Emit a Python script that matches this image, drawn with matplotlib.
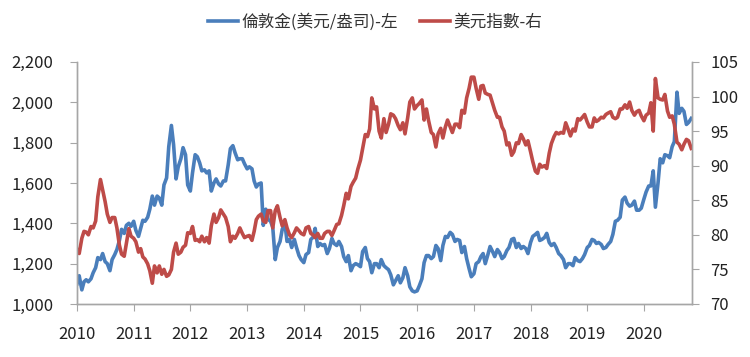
import numpy as np
import pandas as pd
import matplotlib
matplotlib.use("Agg")
import matplotlib.pyplot as plt
from matplotlib.ticker import StrMethodFormatter, MultipleLocator
import matplotlib.dates as mdates

plt.rcParams['font.family'] = ['Noto Sans CJK TC', 'DejaVu Sans']

# semi-monthly readings (1st and 15th of each month), 2010-01 .. 2020-11
dates = pd.date_range('2010-01-01', '2020-11-01', freq='SMS')

# London gold, USD/oz
g2010 = [1100, 1140, 1070, 1110, 1120, 1110, 1125, 1155, 1180, 1230, 1220, 1250,
         1210, 1200, 1165, 1220, 1245, 1270, 1315, 1370, 1350, 1390, 1400, 1385]
g2011 = [1410, 1365, 1335, 1375, 1415, 1410, 1430, 1470, 1535, 1490, 1535, 1525,
         1490, 1590, 1625, 1780, 1885, 1790, 1620, 1680, 1720, 1775, 1740, 1590]
g2012 = [1560, 1650, 1740, 1730, 1700, 1660, 1665, 1650, 1660, 1560, 1600, 1620,
         1595, 1585, 1610, 1610, 1690, 1770, 1785, 1750, 1715, 1720, 1720, 1695]
g2013 = [1670, 1680, 1670, 1610, 1580, 1595, 1600, 1390, 1470, 1420, 1410, 1380,
         1220, 1280, 1310, 1370, 1400, 1310, 1320, 1280, 1320, 1280, 1240, 1220]
g2014 = [1205, 1245, 1255, 1320, 1330, 1375, 1285, 1300, 1290, 1295, 1250, 1275,
         1325, 1300, 1290, 1310, 1285, 1235, 1210, 1240, 1165, 1190, 1200, 1195]
g2015 = [1185, 1260, 1280, 1225, 1210, 1155, 1200, 1200, 1180, 1220, 1190, 1180,
         1170, 1145, 1095, 1115, 1140, 1105, 1130, 1180, 1140, 1085, 1065, 1060]
g2016 = [1065, 1090, 1125, 1205, 1240, 1240, 1225, 1235, 1290, 1275, 1215, 1290,
         1335, 1330, 1355, 1345, 1310, 1320, 1315, 1255, 1285, 1225, 1175, 1135]
g2017 = [1150, 1200, 1210, 1235, 1250, 1200, 1245, 1285, 1260, 1235, 1270, 1255,
         1225, 1235, 1265, 1280, 1320, 1325, 1280, 1300, 1275, 1285, 1275, 1250]
g2018 = [1305, 1335, 1345, 1355, 1315, 1320, 1330, 1350, 1305, 1290, 1300, 1280,
         1250, 1240, 1220, 1180, 1200, 1200, 1190, 1230, 1215, 1210, 1225, 1245]
g2019 = [1280, 1290, 1320, 1315, 1300, 1305, 1295, 1275, 1280, 1295, 1310, 1345,
         1410, 1415, 1430, 1515, 1530, 1500, 1485, 1490, 1510, 1465, 1465, 1475]
g2020 = [1520, 1555, 1585, 1585, 1660, 1480, 1600, 1720, 1700, 1740, 1735, 1725,
         1780, 1805, 2050, 1945, 1970, 1955, 1890, 1900, 1920]

# US dollar index
d2010 = [77.9, 77.3, 79.5, 80.5, 80.4, 80.0, 81.2, 81.0, 82.0, 85.5, 88.0, 86.5,
         84.8, 83.0, 81.8, 82.5, 82.5, 81.0, 78.5, 77.2, 76.9, 78.8, 80.9, 79.8]
d2011 = [79.5, 79.0, 77.5, 78.0, 76.8, 76.5, 75.8, 74.8, 73.0, 75.5, 74.5, 75.5,
         74.3, 75.0, 74.0, 74.2, 75.0, 77.5, 78.8, 77.2, 77.5, 78.2, 78.5, 80.3]
d2012 = [80.2, 81.2, 79.2, 79.3, 79.0, 79.8, 79.0, 79.6, 78.8, 81.3, 83.0, 81.8,
         82.5, 83.6, 83.0, 82.5, 81.2, 79.0, 79.8, 79.5, 80.2, 81.0, 80.2, 79.6]
d2013 = [79.8, 79.9, 79.2, 80.5, 82.2, 82.7, 83.0, 82.0, 81.8, 83.5, 83.5, 81.0,
         83.5, 84.2, 82.5, 81.3, 82.2, 81.0, 80.0, 79.6, 80.3, 81.0, 80.6, 80.2]
d2014 = [80.0, 81.0, 81.2, 80.2, 80.0, 79.6, 80.2, 79.5, 79.5, 80.2, 80.5, 80.5,
         79.9, 80.6, 81.5, 81.6, 82.8, 84.2, 86.0, 85.2, 87.0, 87.6, 88.2, 89.5]
d2015 = [90.8, 92.5, 94.5, 94.2, 95.3, 99.8, 98.2, 98.5, 95.0, 94.0, 96.8, 94.8,
         96.0, 97.5, 97.3, 96.8, 95.8, 95.2, 96.2, 94.6, 96.9, 99.2, 99.8, 98.2]
d2016 = [98.7, 99.0, 99.5, 96.6, 98.2, 96.5, 94.8, 94.5, 92.7, 94.6, 95.4, 94.0,
         95.6, 96.6, 95.6, 94.8, 96.0, 96.0, 95.5, 98.0, 97.6, 99.8, 101.2, 102.8]
d2017 = [102.8, 101.2, 99.6, 101.5, 101.6, 100.5, 100.3, 100.2, 99.0, 98.0, 97.0, 97.0,
         95.6, 95.0, 93.0, 93.3, 91.5, 92.0, 93.3, 93.2, 94.5, 93.9, 93.0, 93.6]
d2018 = [92.0, 90.6, 89.2, 88.9, 90.2, 89.8, 90.0, 89.6, 91.8, 93.2, 94.2, 94.8,
         94.6, 94.8, 94.7, 96.2, 95.2, 94.3, 95.3, 95.0, 96.8, 96.6, 97.0, 97.4]
d2019 = [96.3, 95.6, 95.6, 96.9, 96.4, 96.6, 97.0, 96.9, 97.4, 97.6, 97.8, 97.0,
         96.8, 97.0, 98.2, 98.2, 98.8, 98.3, 99.2, 98.0, 97.3, 97.8, 98.0, 97.2]
d2020 = [96.5, 97.3, 97.6, 99.1, 95.0, 102.6, 99.8, 99.6, 99.5, 100.3, 97.9, 97.0,
         97.2, 96.0, 93.4, 93.1, 92.3, 93.1, 93.8, 93.6, 92.5]

gold = np.concatenate([g2010, g2011, g2012, g2013, g2014, g2015,
                       g2016, g2017, g2018, g2019, g2020])
dxy = np.concatenate([d2010, d2011, d2012, d2013, d2014, d2015,
                      d2016, d2017, d2018, d2019, d2020])

gold_label = '倫敦金(美元/盎司)-左'
dxy_label = '美元指數-右'
blue = '#4a7ebb'
red = '#be4b48'
grey = '#a6a6a6'

fig = plt.figure(figsize=(7.5, 3.57), dpi=100)
ax = fig.add_axes([0.1027, 0.1485, 0.82, 0.678])
ax2 = ax.twinx()

l1, = ax.plot(dates, gold, color=blue, lw=2.6, label=gold_label)
l2, = ax2.plot(dates, dxy, color=red, lw=2.6, label=dxy_label)

ax.set_ylim(1000, 2200)
ax.yaxis.set_major_locator(MultipleLocator(200))
ax.yaxis.set_major_formatter(StrMethodFormatter('{x:,.0f}'))
ax2.set_ylim(70, 105)
ax2.yaxis.set_major_locator(MultipleLocator(5))

ax.set_xlim(pd.Timestamp('2010-01-01'), pd.Timestamp('2020-11-06'))
ax.xaxis.set_major_locator(mdates.YearLocator())
ax.xaxis.set_major_formatter(mdates.DateFormatter('%Y'))

for a in (ax, ax2):
    a.spines['top'].set_visible(False)
    for s in ('left', 'right', 'bottom'):
        a.spines[s].set_color(grey)
        a.spines[s].set_linewidth(1)
    a.tick_params(colors=grey, labelcolor='#222222', labelsize=12, length=5)

ax.tick_params(axis='y', pad=12)
ax.tick_params(axis='x', pad=11)
ax2.tick_params(axis='y', pad=8)

fig.legend(handles=[l1, l2], loc='center', bbox_to_anchor=(0.5, 0.938),
           ncol=2, frameon=False, fontsize=12, handlelength=1.8,
           handletextpad=0.2, columnspacing=1.3, labelcolor='#333333')

fig.savefig('out.png', dpi=100)
